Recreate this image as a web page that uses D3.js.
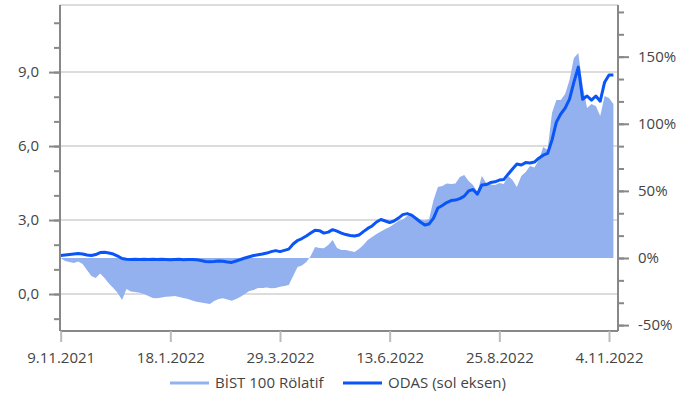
<!DOCTYPE html>
<html>
<head>
<meta charset="utf-8">
<script src="https://cdn.jsdelivr.net/npm/d3@7"></script>
<style>
  body { margin: 0; background: #fff; }
  #chart text { font-family: "Open Sans", "Noto Sans", sans-serif; }
</style>
</head>
<body>
<div id="chart"></div>
<script>
// one sample every 2 trading days, starting 9.11.2021
var STEP = 2;

// ODAS closing price (left axis)
var odas = [
  1.56, 1.58, 1.60, 1.62, 1.64, 1.62, 1.58, 1.56, 1.60, 1.68,
  1.69, 1.66, 1.62, 1.54, 1.44, 1.41, 1.40, 1.41, 1.40, 1.41,
  1.40, 1.41, 1.40, 1.41, 1.40, 1.39, 1.40, 1.41, 1.39, 1.40,
  1.40, 1.39, 1.36, 1.32, 1.31, 1.32, 1.34, 1.33, 1.30, 1.28,
  1.34, 1.40, 1.46, 1.51, 1.56, 1.59, 1.62, 1.66, 1.72, 1.76,
  1.72, 1.77, 1.82, 2.03, 2.17, 2.25, 2.35, 2.47, 2.59, 2.57,
  2.47, 2.51, 2.61, 2.55, 2.47, 2.41, 2.37, 2.35, 2.39, 2.53,
  2.66, 2.76, 2.92, 3.02, 2.96, 2.90, 2.96, 3.08, 3.22, 3.26,
  3.20, 3.06, 2.92, 2.80, 2.84, 3.08, 3.49, 3.59, 3.71, 3.79,
  3.81, 3.87, 3.97, 4.18, 4.24, 4.05, 4.42, 4.44, 4.52, 4.55,
  4.62, 4.64, 4.86, 5.07, 5.27, 5.23, 5.33, 5.31, 5.35, 5.51,
  5.63, 5.70, 6.24, 6.97, 7.30, 7.54, 7.90, 8.59, 9.20, 7.90,
  8.03, 7.86, 8.03, 7.82, 8.59, 8.88, 8.88
];

// ODAS relative to BIST 100, % (right axis)
var relatif = [
  0, -2.2, -3.0, -3.7, -2.6, -4.5, -8.9, -13.4, -14.9, -11.5,
  -14.9, -19.0, -22.4, -26.1, -31.3, -23.1, -25.0, -25.3, -25.9, -26.8,
  -28.3, -29.8, -30.0, -29.4, -28.8, -28.7, -28.3, -29.1, -29.8, -30.5,
  -31.7, -32.6, -33.2, -33.8, -34.3, -32.0, -30.5, -30.0, -30.9, -31.8,
  -30.5, -28.8, -26.8, -24.6, -23.8, -22.4, -22.4, -22.0, -22.6, -22.4,
  -21.4, -20.8, -20.1, -13.4, -6.7, -5.6, -3.0, 1.5, 8.2, 7.5,
  7.2, 9.7, 13.4, 7.5, 6.0, 6.0, 5.2, 4.5, 6.7, 9.7,
  13.4, 15.6, 17.9, 19.7, 21.6, 23.1, 25.3, 27.6, 28.7, 31.3,
  32.8, 30.6, 28.7, 27.9, 29.1, 43.2, 52.9, 53.7, 55.5, 55.1,
  55.5, 60.4, 61.8, 57.4, 54.4, 49.2, 61.1, 55.9, 54.8, 54.4,
  55.9, 55.1, 61.1, 58.1, 52.9, 61.1, 64.1, 68.6, 67.4, 73.0,
  82.7, 80.5, 108.0, 117.7, 117.7, 122.2, 132.6, 149.0, 152.8, 128.2,
  111.8, 114.8, 113.3, 105.8, 120.7, 119.2, 114.8
];

// x axis labels, at trading-day index
var tickDays = [0, 50, 100, 150, 200, 250];
var tickLabels = ["9.11.2021", "18.1.2022", "29.3.2022", "13.6.2022", "25.8.2022", "4.11.2022"];

var leftMajor = [0, 3, 6, 9];
var rightMajor = [-50, 0, 50, 100, 150];

var seriesNames = ["BİST 100 Rölatif", "ODAS (sol eksen)"];
var areaColor = "#93b1ee";
var lineColor = "#0a55f7";

var width = 690, height = 400;
var plot = { left: 60, right: 618, top: 5, bottom: 331 };

var svg = d3.select("#chart")
  .append("svg")
  .attr("width", width)
  .attr("height", height);

// scales
var x = d3.scaleLinear().domain([-0.3, 254.1]).range([plot.left, plot.right]);
var yL = d3.scaleLinear().domain([-1.5, 11.72]).range([plot.bottom, plot.top]);
var yR = d3.scaleLinear().domain([-54.4, 188.5]).range([plot.bottom, plot.top]);

var comma = d3.formatLocale({ decimal: ",", thousands: ".", grouping: [3], currency: ["", ""] }).format(".1f");

// grid lines on the left axis majors + top border
svg.append("g")
  .selectAll("line")
  .data(leftMajor)
  .enter()
  .append("line")
  .attr("x1", plot.left).attr("x2", plot.right)
  .attr("y1", function (d) { return yL(d); })
  .attr("y2", function (d) { return yL(d); })
  .attr("stroke", "#dcdcdc")
  .attr("stroke-width", 2);

svg.append("line")
  .attr("x1", plot.left).attr("x2", plot.right)
  .attr("y1", plot.top).attr("y2", plot.top)
  .attr("stroke", "#dcdcdc")
  .attr("stroke-width", 2);

// relative area, filled from 0%
var area = d3.area()
  .x(function (d, i) { return x(i * STEP); })
  .y0(yR(0))
  .y1(function (d) { return yR(d); });

svg.append("path")
  .datum(relatif)
  .attr("d", area)
  .attr("fill", areaColor);

// ODAS line
var line = d3.line()
  .x(function (d, i) { return x(i * STEP); })
  .y(function (d) { return yL(d); });

svg.append("path")
  .datum(odas)
  .attr("d", line)
  .attr("fill", "none")
  .attr("stroke", lineColor)
  .attr("stroke-width", 3)
  .attr("stroke-linejoin", "round");

// left axis: minor ticks every 1, labels every 3
var leftAxis = svg.append("g").attr("transform", "translate(" + plot.left + ",0)");
leftAxis.call(d3.axisLeft(yL).tickValues(d3.range(-1, 12)).tickSize(6).tickFormat(""));
leftAxis.append("g").call(d3.axisLeft(yL).tickValues(leftMajor).tickSize(11).tickPadding(10).tickFormat(comma));

// right axis: ticks every 50/3 %, labels every 50 %
var rightAxis = svg.append("g").attr("transform", "translate(" + plot.right + ",0)");
rightAxis.call(d3.axisRight(yR).tickValues(d3.range(-50, 190, 50 / 3)).tickSize(6).tickFormat(""));
rightAxis.append("g").call(d3.axisRight(yR).tickValues(rightMajor).tickSize(11).tickPadding(9)
  .tickFormat(function (d) { return d + "%"; }));

// bottom axis
var bottomAxis = svg.append("g").attr("transform", "translate(0," + plot.bottom + ")");
bottomAxis.call(d3.axisBottom(x).tickValues(tickDays).tickSize(11).tickPadding(10)
  .tickFormat(function (d, i) { return tickLabels[i]; }));

// axis styling
svg.selectAll(".domain").attr("stroke", "#888").attr("stroke-width", 2);
leftAxis.selectAll(".tick line").attr("stroke", "#888").attr("stroke-width", 2);
rightAxis.selectAll(".tick line").attr("stroke", "#888").attr("stroke-width", 2);
bottomAxis.selectAll(".tick line").attr("stroke", "#bbb").attr("stroke-width", 2);
svg.selectAll(".tick text").attr("fill", "#444").attr("font-size", "15px");
svg.selectAll(".domain").filter(function () { return true; })
  .attr("d", function () { return d3.select(this).attr("d").replace(/[HV]\d+/g, function (m) { return m; }); });

// plain domains (no end ticks)
leftAxis.select(".domain").attr("d", "M0," + plot.top + "V" + plot.bottom);
leftAxis.selectAll("g .domain").attr("d", "M0," + plot.top + "V" + plot.bottom);
rightAxis.select(".domain").attr("d", "M0," + plot.top + "V" + plot.bottom);
rightAxis.selectAll("g .domain").attr("d", "M0," + plot.top + "V" + plot.bottom);
bottomAxis.select(".domain").attr("d", "M" + plot.left + ",0H" + plot.right);

// legend
var legend = svg.append("g").attr("transform", "translate(0,383)");
var legendItems = [
  { name: seriesNames[0], color: areaColor, x: 170 },
  { name: seriesNames[1], color: lineColor, x: 343 }
];
legendItems.forEach(function (item) {
  legend.append("line")
    .attr("x1", item.x).attr("x2", item.x + 39)
    .attr("y1", 0).attr("y2", 0)
    .attr("stroke", item.color)
    .attr("stroke-width", 3);
  legend.append("text")
    .attr("x", item.x + 45)
    .attr("y", 0)
    .attr("dy", "0.35em")
    .attr("font-size", "15px")
    .attr("fill", "#444")
    .text(item.name);
});
</script>
</body>
</html>
